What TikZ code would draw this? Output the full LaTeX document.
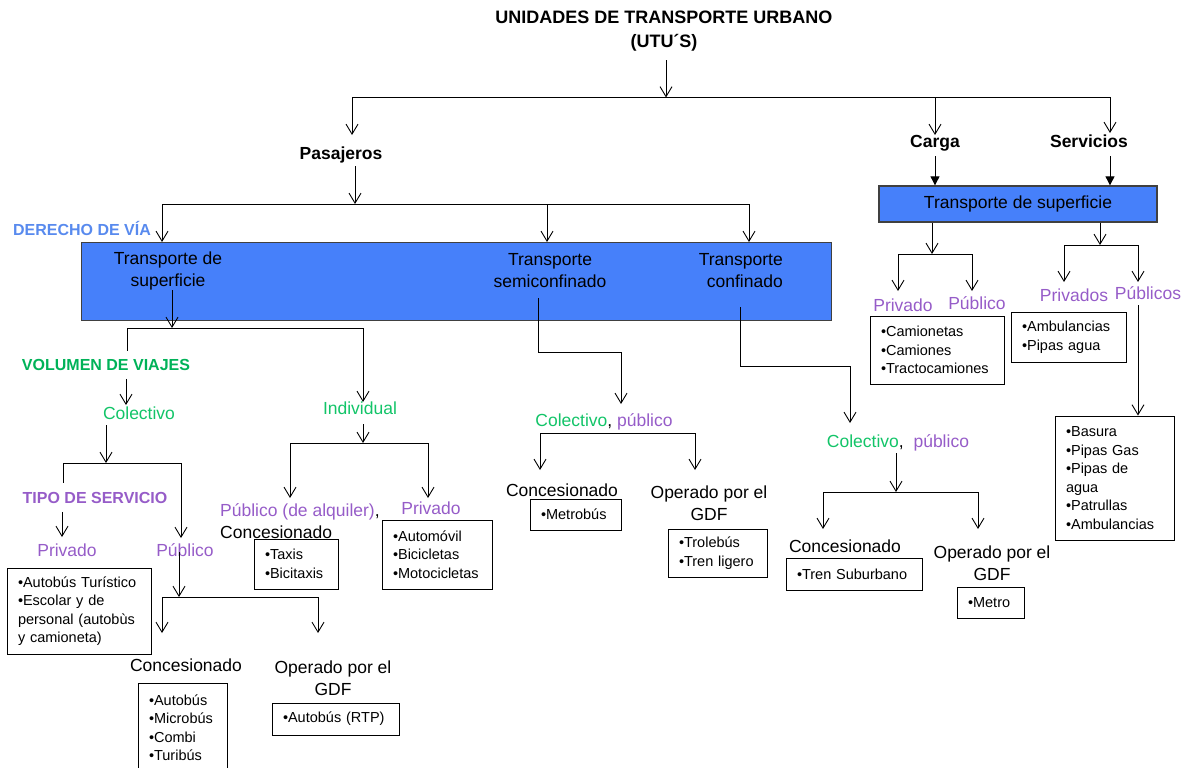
\documentclass[tikz,border=0pt]{standalone}
\usepackage{fontspec}
\setmainfont{Liberation Sans}
\usetikzlibrary{arrows.meta}
\definecolor{boxblue}{RGB}{70,128,250}
\definecolor{derblue}{RGB}{88,138,238}
\definecolor{vgreen}{RGB}{0,178,88}
\definecolor{cgreen}{RGB}{18,196,104}
\definecolor{vpurple}{RGB}{150,92,200}
\newcommand\myfs[2]{\fontsize{#1}{#2}\selectfont}
\begin{document}
\begin{tikzpicture}[x=1pt,y=-1pt,
  lbl/.style={inner sep=0pt, align=center, font=\myfs{17.5}{22}},
  one/.style={text height=12.5pt, text depth=3.5pt},
  blbl/.style={lbl, one, font=\bfseries\myfs{17.5}{22}},
  hdr/.style={inner sep=0pt, text height=11.5pt, text depth=0pt, font=\bfseries\myfs{16}{18}},
  ttl/.style={inner sep=0pt, align=center, font=\bfseries\myfs{18}{24}},
  lst/.style={draw, line width=0.9pt, inner xsep=11pt, inner ysep=0pt, align=left, font=\myfs{14.5}{18.5}},
  bluebox/.style={draw=black!75, line width=1.3pt, fill=boxblue, inner sep=0pt},
  ln/.style={line width=0.9pt},
  arr/.style={ln, -{Straight Barb[length=10pt,width=12pt]}},
  farr/.style={ln, -{Triangle[length=9pt,width=9pt]}}]
\useasboundingbox (0,0) rectangle (1187,768);

% ---------- title and first level ----------
\node[ttl] (title) at (664,31) {UNIDADES DE TRANSPORTE URBANO\\(UTU´S)};
\coordinate (J0) at (666,97.5);
\coordinate (JL) at (352,97.5);
\coordinate (JC) at (935,97.5);
\coordinate (JR) at (1110,97.5);
\draw[ln] (JL) -- (JR);
\draw[arr, shorten <=9pt] (title.south -| J0) -- (J0);

\node[blbl] (pas) at (341,155) {Pasajeros};
\node[blbl] (carga) at (935,143) {Carga};
\node[blbl] (serv) at (1089,143) {Servicios};
\coordinate (pasTip) at (352,135);
\coordinate (carTip) at (935,135);
\coordinate (serTip) at (1110,133);
\draw[arr] (JL) -- (pasTip);
\draw[arr] (JC) -- (carTip);
\draw[arr] (JR) -- (serTip);

% ---------- right part: carga / servicios ----------
\node[bluebox, minimum width=278pt, minimum height=36pt, font=\myfs{17.5}{22}] (rsup) at (1018,204) {Transporte de superficie};
\draw[farr, shorten <=5pt] (carga.south) -- (carga.south |- rsup.north);
\draw[farr, shorten <=5pt] (serv.south -| JR) -- (JR |- rsup.north);

\coordinate (rj1) at (932,254);
\coordinate (rjL) at (898,254);
\coordinate (rjR) at (972,254);
\coordinate (rjLt) at (898,291);
\coordinate (rjRt) at (972,291);
\draw[arr] (rsup.south -| rj1) -- (rj1);
\draw[ln] (rjL) -- (rjR);
\draw[arr] (rjL) -- (rjLt);
\draw[arr] (rjR) -- (rjRt);
\node[lbl, one, text=vpurple] (privR) at (903,307) {Privado};
\node[lbl, one, text=vpurple] (pubR) at (977,305) {Público};

\coordinate (rk1) at (1100,245);
\coordinate (rkL) at (1064,245);
\coordinate (rkR) at (1138,245);
\coordinate (rkLt) at (1064,282);
\coordinate (rkRt) at (1138,282);
\draw[arr] (rsup.south -| rk1) -- (rk1);
\draw[ln] (rkL) -- (rkR);
\draw[arr] (rkL) -- (rkLt);
\draw[arr] (rkR) -- (rkRt);
\node[lbl, one, text=vpurple] (privsR) at (1074,297) {Privados};
\node[lbl, one, text=vpurple] (pubsR) at (1148,295) {Públicos};

\node[lst, text width=112pt, minimum height=68pt] (camion) at (937,350)
  {\textbullet Camionetas\\\textbullet Camiones\\\textbullet Tractocamiones};
\node[lst, text width=93pt, minimum height=50pt] (ambu) at (1068.5,337)
  {\textbullet Ambulancias\\\textbullet Pipas agua};
\node[lst, text width=97pt, minimum height=124pt] (basura) at (1114.5,478)
  {\textbullet Basura\\\textbullet Pipas Gas\\\textbullet Pipas de\\agua\\\textbullet Patrullas\\\textbullet Ambulancias};
\draw[arr, shorten <=2pt] (pubsR.south -| rkR) -- (rkR |- basura.north);

% ---------- pasajeros ----------
\coordinate (pb) at (355,204);
\coordinate (b2a) at (162,204);
\coordinate (b2b) at (547,204);
\coordinate (b2c) at (749,204);
\draw[arr, shorten <=3pt] (pas.south -| pb) -- (pb);
\draw[ln] (b2a) -- (b2c);

\node[bluebox, minimum width=750pt, minimum height=78pt, anchor=north west] (mbox) at (81,242) {};
\draw[arr] (b2a) -- (b2a |- mbox.north);
\draw[arr] (b2b) -- (b2b |- mbox.north);
\draw[arr] (b2c) -- (b2c |- mbox.north);

\node[hdr, text=derblue] (der) at (82,230) {DERECHO DE VÍA};
\node[lbl] (ts) at (168,271) {Transporte de\\superficie};
\node[lbl] (tsemi) at (550,271) {Transporte\\semiconfinado};
\node[lbl, align=right, anchor=east] (tconf) at (783,271) {Transporte\\confinado};

% ---------- superficie ----------
\coordinate (b3m) at (172,328);
\coordinate (b3L) at (127,328);
\coordinate (b3R) at (363,328);
\draw[arr] (ts.south -| b3m) -- (b3m);
\draw[ln] (b3L) -- (b3R);
\node[hdr, text=vgreen] (vol) at (106,365) {VOLUMEN DE VIAJES};
\draw[ln, shorten >=8pt] (b3L) -- (b3L |- vol.north);
\coordinate (colTip) at (126,405);
\draw[arr, shorten <=8pt] (vol.south -| colTip) -- (colTip);
\node[lbl, one, text=cgreen] (colA) at (139,415) {Colectivo};
\coordinate (indTip) at (363,402);
\draw[arr] (b3R) -- (indTip);
\node[lbl, one, text=cgreen] (ind) at (360,410) {Individual};

% colectivo
\coordinate (b4m) at (106,463);
\coordinate (b4L) at (63,463);
\coordinate (b4R) at (181,463);
\draw[arr, shorten <=2pt] (colA.south -| b4m) -- (b4m);
\draw[ln] (b4L) -- (b4R);
\node[hdr, text=vpurple] (tipo) at (95,498) {TIPO DE SERVICIO};
\draw[ln, shorten >=9pt] (b4L) -- (b4L |- tipo.north);
\coordinate (privTip) at (62,537);
\draw[arr, shorten <=8pt] (tipo.south -| privTip) -- (privTip);
\coordinate (pubTip) at (181,538);
\draw[arr] (b4R) -- (pubTip);
\node[lbl, one, text=vpurple] (privA) at (67,552) {Privado};
\node[lbl, one, text=vpurple] (pubA) at (185,552) {Público};

\node[lst, text width=122pt, minimum height=86pt] (turist) at (79,611)
  {\textbullet Autobús Turístico\\\textbullet Escolar y de\\personal (autobùs\\y camioneta)};

\coordinate (b5m) at (179,597);
\coordinate (b5L) at (162,597);
\coordinate (b5R) at (318,597);
\coordinate (b5Lt) at (162,633);
\coordinate (b5Rt) at (318,633);
\draw[arr] (pubA.center -| b5m) -- (b5m);
\draw[ln] (b5L) -- (b5R);
\draw[arr] (b5L) -- (b5Lt);
\draw[arr] (b5R) -- (b5Rt);
\node[lbl, one] (concA) at (186,667) {Concesionado};
\node[lbl] (opA) at (333,678) {Operado por el\\GDF};
\node[lst, text width=67pt, minimum height=89pt] (concAl) at (182.5,727.5)
  {\textbullet Autobús\\\textbullet Microbús\\\textbullet Combi\\\textbullet Turibús};
\node[lst, text width=105pt, minimum height=32pt] (rtp) at (335.5,719) {\textbullet Autobús (RTP)};

% individual
\coordinate (b6m) at (363,443);
\coordinate (b6L) at (290,443);
\coordinate (b6R) at (428,443);
\coordinate (b6Lt) at (290,498);
\coordinate (b6Rt) at (428,498);
\draw[arr, shorten <=6pt] (ind.south -| b6m) -- (b6m);
\draw[ln] (b6L) -- (b6R);
\draw[arr] (b6L) -- (b6Lt);
\draw[arr] (b6R) -- (b6Rt);
\node[lbl, align=left, anchor=west] (pubInd) at (220,521) {\textcolor{vpurple}{Público (de alquiler)},\\Concesionado};
\node[lbl, one, text=vpurple] (privInd) at (431,510) {Privado};
\node[lst, text width=62pt, minimum height=50pt] (taxis) at (296,564) {\textbullet Taxis\\\textbullet Bicitaxis};
\node[lst, text width=88pt, minimum height=69pt] (auto) at (437,554.5)
  {\textbullet Automóvil\\\textbullet Bicicletas\\\textbullet Motocicletas};

% ---------- semiconfinado ----------
\coordinate (s1) at (538,352);
\coordinate (s2) at (621,352);
\coordinate (sTip) at (621,404);
\draw[arr, shorten <=10pt] (tsemi.south -| s1) -- (s1) -- (s2) -- (sTip);
\node[lbl, one] (cpS) at (604,422) {\textcolor{cgreen}{Colectivo}, \textcolor{vpurple}{público}};
\coordinate (sbL) at (540,433);
\coordinate (sbR) at (695,433);
\coordinate (sbLt) at (540,470);
\coordinate (sbRt) at (695,470);
\draw[ln] (sbL) -- (sbR);
\draw[arr] (sbL) -- (sbLt);
\draw[arr] (sbR) -- (sbRt);
\node[lbl, one] (concS) at (562,492) {Concesionado};
\node[lbl] (opS) at (709,503) {Operado por el\\GDF};
\node[lst, text width=69pt, minimum height=31pt] (metrob) at (575.5,514.5) {\textbullet Metrobús};
\node[lst, text width=77pt, minimum height=48pt] (trole) at (717.5,553) {\textbullet Trolebús\\\textbullet Tren ligero};

% ---------- confinado ----------
\coordinate (c1) at (740,366);
\coordinate (c2) at (850,366);
\coordinate (cTip) at (850,423);
\draw[arr, shorten <=19pt] (tconf.south -| c1) -- (c1) -- (c2) -- (cTip);
\node[lbl, one] (cpC) at (898,443) {\textcolor{cgreen}{Colectivo},\ \ \textcolor{vpurple}{público}};
\coordinate (cbm) at (896,492);
\coordinate (cbL) at (823,492);
\coordinate (cbR) at (978,492);
\coordinate (cbLt) at (823,529);
\coordinate (cbRt) at (978,529);
\draw[arr, shorten <=2pt] (cpC.south -| cbm) -- (cbm);
\draw[ln] (cbL) -- (cbR);
\draw[arr] (cbL) -- (cbLt);
\draw[arr] (cbR) -- (cbRt);
\node[lbl, one] (concC) at (845,548) {Concesionado};
\node[lbl] (opC) at (992,563.5) {Operado por el\\GDF};
\node[lst, text width=114pt, minimum height=32pt] (tsub) at (854,574) {\textbullet Tren Suburbano};
\node[lst, text width=45pt, minimum height=31pt] (metro) at (990.5,602.5) {\textbullet Metro};
\end{tikzpicture}
\end{document}
